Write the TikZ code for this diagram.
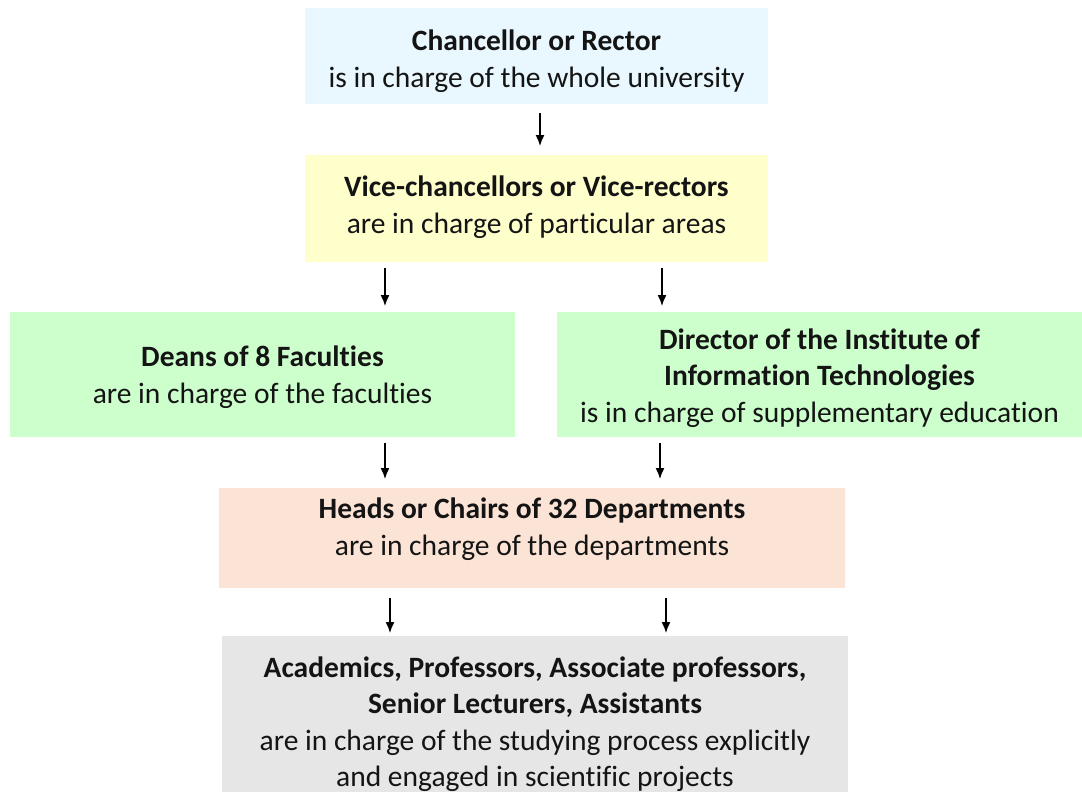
\documentclass[tikz,border=0pt]{standalone}
\usepackage{fontspec}
\setmainfont{Carlito}[RawFeature={-liga}]
\usetikzlibrary{arrows.meta,calc}
\definecolor{cblue}{HTML}{E9F8FE}
\definecolor{cyellow}{HTML}{FFFFCC}
\definecolor{cgreen}{HTML}{CCFFCC}
\definecolor{cpeach}{HTML}{FBE4D6}
\definecolor{cgray}{HTML}{E7E6E6}
\tikzset{
  box/.style={draw=none, rectangle, inner sep=0pt, outer sep=0pt},
  txt/.style={align=center, inner sep=0pt, font=\fontsize{29.5}{36.5}\selectfont, text=black!92},
  arr/.style={-{Latex[length=11pt,width=9pt]}, line width=1.4pt, black}
}
\begin{document}
\begin{tikzpicture}[x=1pt,y=-1pt]
\useasboundingbox (0,0) rectangle (1082,792);
\begin{scope}
\clip (0,0) rectangle (1082,792);
\node[box, fill=cblue, minimum width=463pt, minimum height=96pt] (b1) at (536.5,56) {};
\node[box, fill=cyellow, minimum width=463pt, minimum height=107pt] (b2) at (536.5,208.5) {};
\node[box, fill=cgreen, minimum width=505pt, minimum height=125pt] (b3l) at (262.5,374.5) {};
\node[box, fill=cgreen, minimum width=525pt, minimum height=125pt] (b3r) at (819.5,374.5) {};
\node[box, fill=cpeach, minimum width=626pt, minimum height=100pt] (b4) at (532,538) {};
\node[box, fill=cgray, minimum width=626pt, minimum height=174pt] (b5) at (535,723) {};
\end{scope}

\node[txt] (t1) at (536.5,61) {\textbf{Chancellor or Rector}\\is in charge of the whole university};
\node[txt] (t2) at (536.5,207) {\textbf{Vice-chancellors or Vice-rectors}\\are in charge of particular areas};
\node[txt] (t3l) at (262.5,377) {\textbf{Deans of 8 Faculties}\\are in charge of the faculties};
\node[txt] (t3r) at (819.5,378) {\textbf{Director of the Institute of}\\\textbf{Information Technologies}\\is in charge of supplementary education};
\node[txt] (t4) at (532,529) {\textbf{Heads or Chairs of 32 Departments}\\are in charge of the departments};
\node[txt] (t5) at (535,724) {\textbf{Academics, Professors, Associate professors,}\\\textbf{Senior Lecturers, Assistants}\\are in charge of the studying process explicitly\\and engaged in scientific projects};

\coordinate (c1) at (540,0);
\coordinate (c2a) at (385,0);
\coordinate (c2b) at (662,0);
\coordinate (c3a) at (385,0);
\coordinate (c3b) at (660,0);
\coordinate (c4a) at (390,0);
\coordinate (c4b) at (666,0);

\draw[arr, shorten <=9pt, shorten >=9pt] (b1.south -| c1) -- (b2.north -| c1);
\draw[arr, shorten <=6pt, shorten >=6pt] (b2.south -| c2a) -- (b3l.north -| c2a);
\draw[arr, shorten <=6pt, shorten >=6pt] (b2.south -| c2b) -- (b3r.north -| c2b);
\draw[arr, shorten <=6pt, shorten >=9pt] (b3l.south -| c3a) -- (b4.north -| c3a);
\draw[arr, shorten <=6pt, shorten >=9pt] (b3r.south -| c3b) -- (b4.north -| c3b);
\draw[arr, shorten <=10pt, shorten >=3pt] (b4.south -| c4a) -- (b5.north -| c4a);
\draw[arr, shorten <=10pt, shorten >=3pt] (b4.south -| c4b) -- (b5.north -| c4b);
\end{tikzpicture}
\end{document}
